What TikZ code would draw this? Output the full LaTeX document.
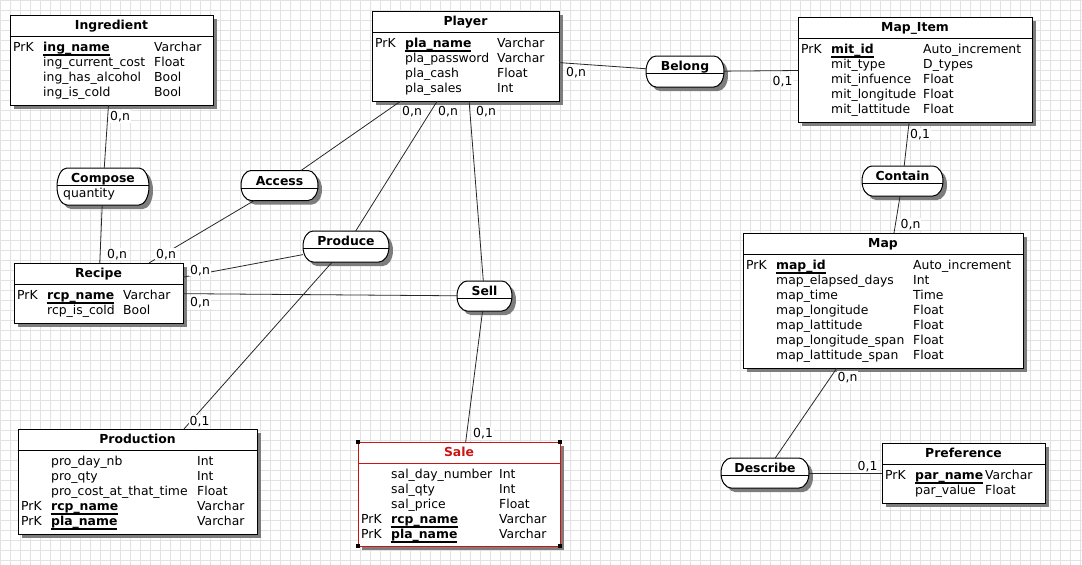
\documentclass[tikz,border=0pt]{standalone}
\usepackage{fontspec}
\setmainfont{DejaVu Sans}
\usepackage{array}
\definecolor{gridc}{RGB}{226,226,226}
\definecolor{selred}{RGB}{205,20,20}
\definecolor{shadowc}{RGB}{125,125,125}
\definecolor{linkc}{RGB}{40,40,40}

% bold, underlined primary key name
\newcommand\keyname[1]{\leavevmode\setbox0\hbox{\textbf{#1}}\rlap{\rule[-4.3pt]{\wd0}{1.4pt}}\box0}

% entity: name, x1, y1, x2, y2, extra style, title, name column width, rows
\newcommand\entity[9]{%
  \fill[shadowc] ({#2+4},{#3+4}) rectangle ({#4+4},{#5+4});
  \node[ebox,#6,minimum width={#4-#2},minimum height={#5-#3}] (#1) at ({(#2+#4)/2},{(#3+#5)/2}) {};
  \draw[hdr,#6] (#2,{#3+21}) -- (#4,{#3+21});
  \node[ttl,#6,draw=none] (#1-t) at ({(#2+#4)/2},{#3+14.5}) {#7};
  \node[body] (#1-b) at ({#2+3},{#3+36.5}) {\begin{tabular}[t]{@{}p{30pt}@{}p{#8pt}@{}l@{}}#9\end{tabular}};
}

% stadium outline: cx, cy, w, h
\newcommand\stadium[4]{({#1-#3/2+10},{#2-#4/2}) -- ({#1+#3/2-10},{#2-#4/2})
  arc[start angle=90,end angle=-90,x radius=10pt,y radius={#4/2*1pt}]
  -- ({#1-#3/2+10},{#2+#4/2})
  arc[start angle=270,end angle=90,x radius=10pt,y radius={#4/2*1pt}] -- cycle}

% relationship: name, cx, cy, w, h, title
\newcommand\relation[6]{%
  \fill[shadowc,shift={(4,4)}] \stadium{#2}{#3}{#4}{#5};
  \filldraw[relbox] \stadium{#2}{#3}{#4}{#5};
  \draw[hdr] ({#2-#4/2},{#3-#5/2+17.5}) -- ({#2+#4/2},{#3-#5/2+17.5});
  \node[relnode,minimum width=#4,minimum height=#5] (#1) at (#2,#3) {};
  \node[ttl] (#1-t) at (#2,{#3-#5/2+14.5}) {#6};
}

\begin{document}
\begin{tikzpicture}[x=1pt,y=-1pt,
  font=\fontsize{12.4}{15}\selectfont,
  ebox/.style={rectangle,draw=black,fill=white,line width=1pt,inner sep=0,outer sep=0},
  hdr/.style={draw=black,line width=1pt},
  ttl/.style={anchor=base,inner sep=0,font=\fontsize{12.4}{15}\selectfont\bfseries},
  body/.style={anchor=base west,inner sep=0},
  relnode/.style={rectangle,inner sep=0,outer sep=0,draw=none},
  relbox/.style={draw=black,fill=white,line width=1pt},
  link/.style={draw=linkc,line width=0.8pt},
  card/.style={anchor=base west,fill=white,inner sep=1pt},
  sel/.style={draw=selred,text=selred}]

\useasboundingbox (0,0) rectangle (1082,565);
\fill[white] (0,0) rectangle (1082,565);

% background grid
\foreach \i in {0,10,...,1080} \draw[gridc,line width=0.6pt] (\i,0) -- (\i,565);
\foreach \j in {0,10,...,560} \draw[gridc,line width=0.6pt] (0,\j) -- (1082,\j);

% entities
\entity{ing}{10}{15}{213}{105}{}{Ingredient}{111}{%
  PrK & \keyname{ing\_name} & Varchar \\
      & ing\_current\_cost & Float \\
      & ing\_has\_alcohol & Bool \\
      & ing\_is\_cold & Bool}

\entity{player}{372}{11}{559}{101}{}{Player}{92}{%
  PrK & \keyname{pla\_name} & Varchar \\
      & pla\_password & Varchar \\
      & pla\_cash & Float \\
      & pla\_sales & Int}

\entity{mapitem}{798}{17}{1032}{122}{}{Map\_Item}{92}{%
  PrK & \keyname{mit\_id} & Auto\_increment \\
      & mit\_type & D\_types \\
      & mit\_infuence & Float \\
      & mit\_longitude & Float \\
      & mit\_lattitude & Float}

\entity{map}{743}{233}{1023}{368}{}{Map}{137}{%
  PrK & \keyname{map\_id} & Auto\_increment \\
      & map\_elapsed\_days & Int \\
      & map\_time & Time \\
      & map\_longitude & Float \\
      & map\_lattitude & Float \\
      & map\_longitude\_span & Float \\
      & map\_lattitude\_span & Float}

\entity{recipe}{14}{263}{183}{323}{}{Recipe}{76}{%
  PrK & \keyname{rcp\_name} & Varchar \\
      & rcp\_is\_cold & Bool}

\entity{production}{18}{429}{257}{534}{}{Production}{146}{%
      & pro\_day\_nb & Int \\
      & pro\_qty & Int \\
      & pro\_cost\_at\_that\_time & Float \\
  PrK & \keyname{rcp\_name} & Varchar \\
  PrK & \keyname{pla\_name} & Varchar}

\entity{sale}{358}{442}{560}{546}{sel}{Sale}{108}{%
      & sal\_day\_number & Int \\
      & sal\_qty & Int \\
      & sal\_price & Float \\
  PrK & \keyname{rcp\_name} & Varchar \\
  PrK & \keyname{pla\_name} & Varchar}

% selection handles on the Sale box
\foreach \c in {north west,north east,south west,south east}
  \fill[black] ([shift={(-2pt,-2pt)}]sale.\c) rectangle ([shift={(2pt,2pt)}]sale.\c);

\entity{pref}{882}{443}{1045}{503}{}{Preference}{70}{%
  PrK & \keyname{par\_name} & Varchar \\
      & par\_value & Float}

% relationships
\relation{compose}{103}{186.5}{92}{37}{Compose}
\node[anchor=base west,inner sep=0] (compose-a) at (63,197.5) {quantity};
\relation{access}{279.5}{185.5}{77}{30}{Access}
\relation{produce}{346}{246.5}{86}{31}{Produce}
\relation{sell}{484.5}{296}{55}{30}{Sell}
\relation{belong}{685}{71.5}{78}{31}{Belong}
\relation{contain}{902.5}{181}{81}{30}{Contain}
\relation{describe}{765}{473}{88}{30}{Describe}

% links
\draw[link] (ing) -- (compose);
\draw[link] (compose) -- (recipe);
\draw[link] (access) -- (player);
\draw[link] (access) -- (recipe);
\draw[link] (produce) -- (player);
\draw[link] (produce) -- (recipe);
\draw[link] (produce) -- (production);
\draw[link] (sell) -- (player);
\draw[link] (sell) -- (recipe);
\draw[link] (sell) -- (sale);
\draw[link] (belong) -- (player);
\draw[link] (belong) -- (mapitem);
\draw[link] (contain) -- (mapitem);
\draw[link] (contain) -- (map);
\draw[link] (describe) -- (map);
\draw[link] (describe) -- (pref);

% cardinalities
\node[card] (c1) at (109,120.5) {0,n};
\node[card] (c2) at (106,258) {0,n};
\node[card] (c3) at (155,258) {0,n};
\node[card] (c4) at (401,115.5) {0,n};
\node[card] (c5) at (437,115.5) {0,n};
\node[card] (c6) at (475,115.5) {0,n};
\node[card] (c7) at (189,274) {0,n};
\node[card] (c8) at (189,306.5) {0,n};
\node[card] (c9) at (188.5,425.5) {0,1};
\node[card] (c10) at (472,437.5) {0,1};
\node[card] (c11) at (565,76.5) {0,n};
\node[card] (c12) at (771.5,85) {0,1};
\node[card] (c13) at (909,138) {0,1};
\node[card] (c14) at (899.5,228) {0,n};
\node[card] (c15) at (836.5,381.5) {0,n};
\node[card] (c16) at (856.5,470.5) {0,1};

\end{tikzpicture}
\end{document}
